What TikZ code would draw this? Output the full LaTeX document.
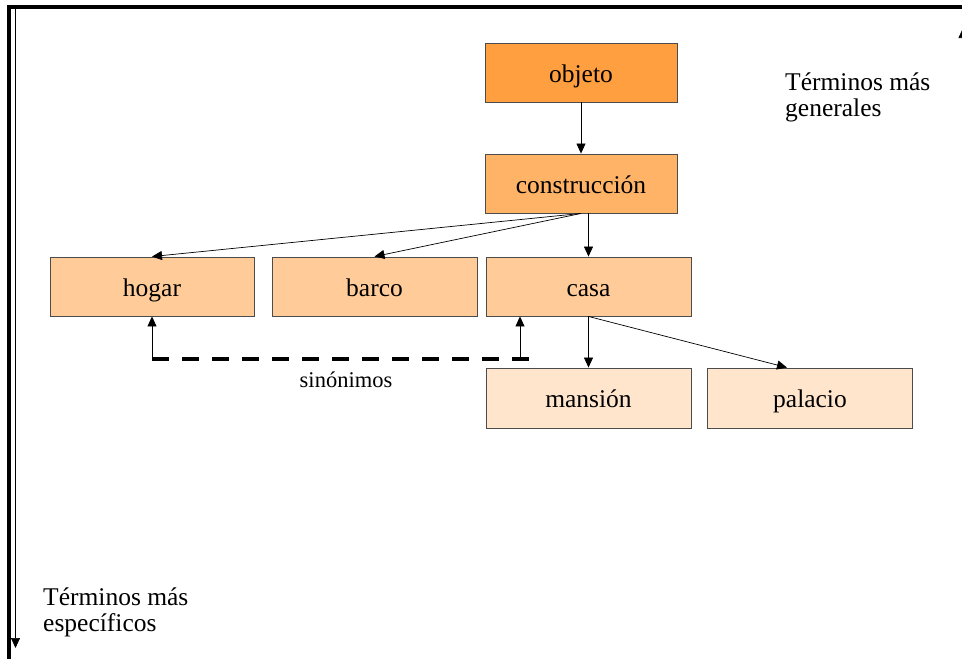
\documentclass[tikz,border=0pt]{standalone}
\usepackage{fontspec}
\setmainfont{Liberation Serif}
\usetikzlibrary{arrows.meta,calc}

\definecolor{levelA}{RGB}{255,159,64}
\definecolor{levelB}{RGB}{255,179,102}
\definecolor{levelC}{RGB}{255,204,153}
\definecolor{levelD}{RGB}{255,229,204}

\begin{document}
\begin{tikzpicture}[x=1pt,y=-1pt,
  term/.style={draw=black!70, line width=0.9pt, minimum width=205pt,
    minimum height=59pt, inner sep=0pt, text height=19pt, text depth=0pt,
    font=\fontsize{25.5}{28}\selectfont},
  arr/.style={-{Triangle[length=10pt,width=9pt]}, line width=0.7pt},
  note/.style={inner sep=0pt, font=\fontsize{25.5}{28}\selectfont},
  frame/.style={line width=3.2pt, line join=miter}
]
\useasboundingbox (0,0) rectangle (962,659);

% outer frame and the generality axis
\draw[frame] (9,680) -- (9,7) -- (980,7);
\coordinate (axTop) at (15.5,9);
\coordinate (axBot) at (15.5,648);
\draw[arr] (axTop) -- (axBot);
\coordinate (upBot) at (963,659);
\coordinate (upTop) at (963,28);
\draw[arr] (upBot) -- (upTop);

% terms
\node[term, fill=levelA, minimum width=192pt] (objeto) at (581,72.5) {objeto};
\node[term, fill=levelB, minimum width=192pt] (constr) at (581,183.5) {construcción};
\node[term, fill=levelC, minimum width=204pt] (hogar) at (152,286.5) {hogar};
\node[term, fill=levelC] (barco) at (374.5,286.5) {barco};
\node[term, fill=levelC] (casa) at (588.5,286.5) {casa};
\node[term, fill=levelD, minimum height=60pt] (mansion) at (588.5,398) {mansión};
\node[term, fill=levelD, minimum height=60pt] (palacio) at (810,398) {palacio};

% hierarchy
\draw[arr] (objeto.south) -- (constr.north);
\draw[arr] (constr.south) -- (hogar.north);
\draw[arr] (constr.south) -- (barco.north);
\draw[arr] (casa.north |- constr.south) -- (casa.north);
\draw[arr] (casa.south) -- (mansion.north);
\draw[arr] (casa.south) -- ($(palacio.north)+(-23,0)$);

% synonym link
\coordinate (synL) at (152,359);
\coordinate (synR) at (520,359);
\coordinate (synE) at (529,359);
\draw[arr] (synL) -- (hogar.south);
\draw[arr] (synR) -- (synR |- casa.south);
\draw[line width=4.3pt, dash pattern=on 17pt off 13pt] (synL) -- (synE);
\node[anchor=base, inner sep=0pt, font=\fontsize{22.5}{25}\selectfont] (sin) at (346,387) {sinónimos};

% axis labels
\node[note, anchor=base west] (gen) at (785,90) {Términos más};
\node[note, anchor=base west] (gen2) at (785,116) {generales};
\node[note, anchor=base west] (esp) at (43,605) {Términos más};
\node[note, anchor=base west] (esp2) at (43,631) {específicos};
\end{tikzpicture}
\end{document}
